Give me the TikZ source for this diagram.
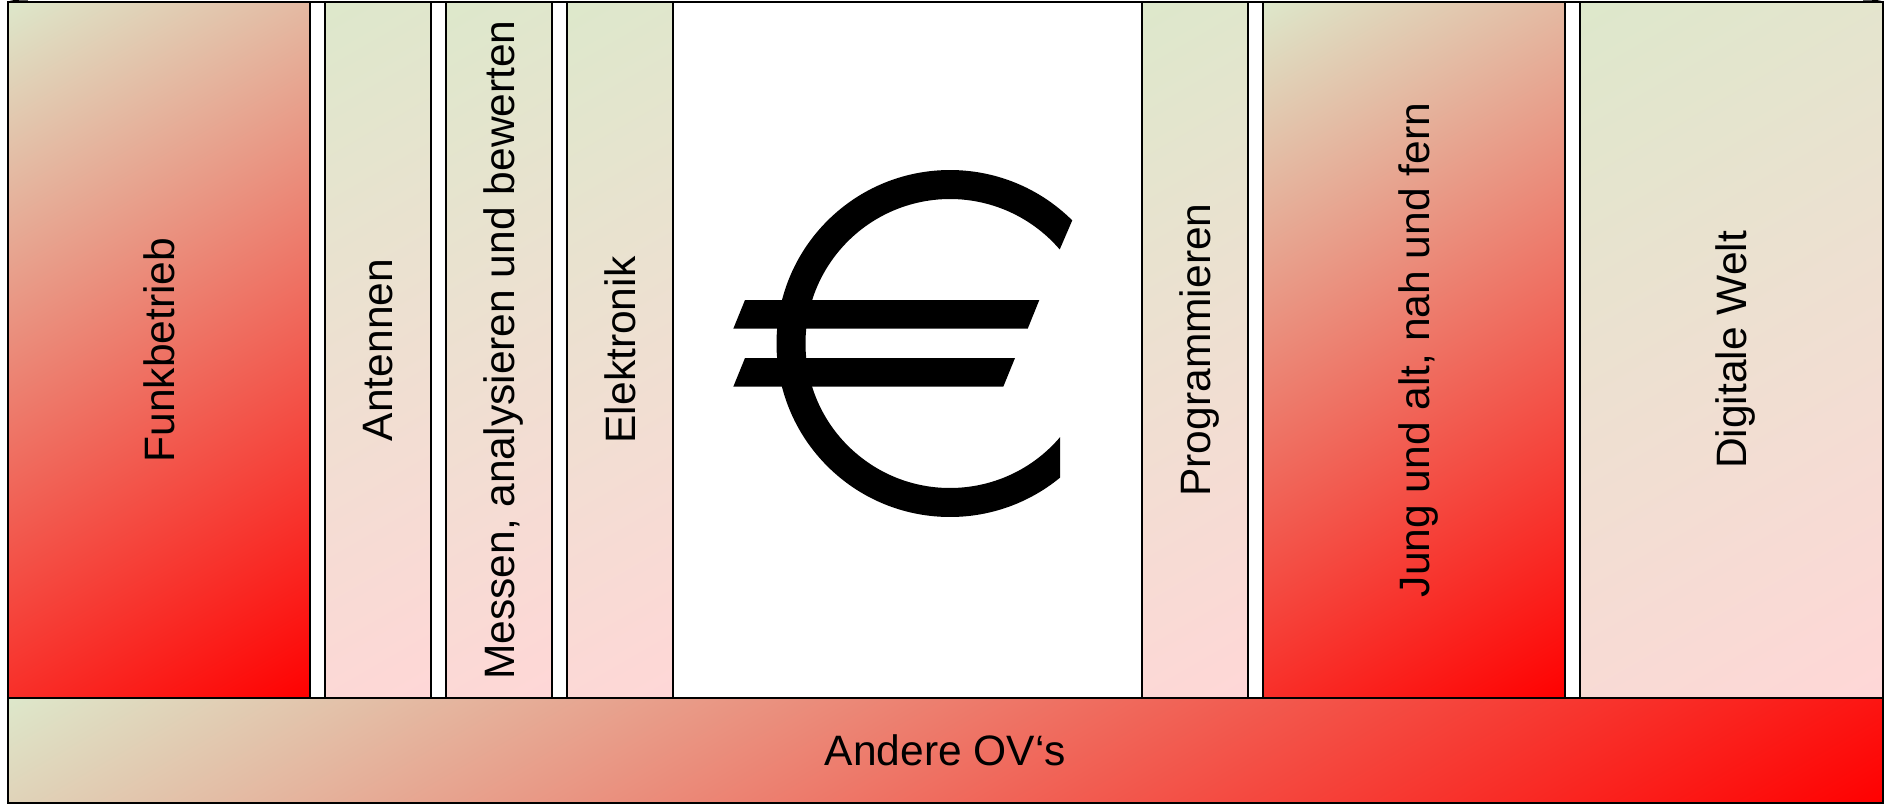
\documentclass[tikz,border=0pt]{standalone}
\usepackage{fontspec}
\setmainfont{Liberation Sans}
\usetikzlibrary{calc, positioning}
\definecolor{startgreen}{HTML}{DDE8CB}
\definecolor{palered}{HTML}{FFD7D7}
\pgfdeclareverticalshading{strongshade}{100bp}{color(0bp)=(red); color(100bp)=(startgreen)}
\pgfdeclareverticalshading{paleshade}{100bp}{color(0bp)=(palered); color(100bp)=(startgreen)}
\newcommand{\gradfill}[4]{%
  \begin{scope}
    \pgfmathsetmacro{\gradlen}{(#2*sin(30)+#3*cos(30))/3.5146}
    \pgfmathsetmacro{\gradwid}{(#2+#3)/3.5146}
    \clip (#1.south west) rectangle (#1.north east);
    \node[transform shape, rotate=30, xscale=\gradwid, yscale=\gradlen, inner sep=0pt, outer sep=0pt] (#1-shade) at (#1) {\pgfuseshading{#4}};
  \end{scope}
  \draw (#1.south west) rectangle (#1.north east);}
\begin{document}
\begin{tikzpicture}[font=\fontsize{12.1}{14.5}\selectfont, line width=0.35pt,
    column/.style={draw=black, outer sep=0pt, inner sep=0pt, minimum height=6.96cm},
    strongcol/.style={column, minimum width=3.02cm},
    palecol/.style={column, minimum width=1.06cm},
    widecol/.style={column, minimum width=3.03cm},
    vlabel/.style={rotate=90, text depth=0pt}]
    \useasboundingbox (0,0) rectangle (18.87,8.04);

    \path (0.08,8.02) coordinate (a1);
    \path (18.83,8.02) coordinate (a2);
    \path (0.28,8.04) coordinate (a3);
    \path (18.63,8.04) coordinate (a4);
    \path (9.5,4.605) coordinate (euro);

    \node[draw=black, fill=white, outer sep=0pt, minimum width=18.75cm, minimum height=8.01cm, anchor=north west] (frame) at (a1) {};
    \draw (a1) to[bend left=8] (a3);
    \draw (a2) to[bend right=8] (a4);

    \node[strongcol, anchor=north west] (funk) at (a1) {};
    \node[palecol, right = 0.15cm of funk] (antennen) {};
    \node[palecol, right = 0.15cm of antennen] (messen) {};
    \node[palecol, right = 0.15cm of messen] (elektronik) {};
    \node[column, fill=white, minimum width=4.69cm, right = 0cm of elektronik] (mitte) {};
    \node[palecol, right = 0cm of mitte] (prog) {};
    \node[strongcol, right = 0.15cm of prog] (jung) {};
    \node[widecol, anchor=north east] (digital) at (a2) {};
    \node[column, minimum height=1.05cm, minimum width=18.75cm, anchor=north] (ov) at (frame.south |- funk.south) {};

    \gradfill{funk}{3.02}{6.96}{strongshade}
    \gradfill{antennen}{1.06}{6.96}{paleshade}
    \gradfill{messen}{1.06}{6.96}{paleshade}
    \gradfill{elektronik}{1.06}{6.96}{paleshade}
    \gradfill{prog}{1.06}{6.96}{paleshade}
    \gradfill{jung}{3.02}{6.96}{strongshade}
    \gradfill{digital}{3.03}{6.96}{paleshade}
    \gradfill{ov}{18.75}{1.05}{strongshade}

    \node[vlabel] (funk-text) at (funk) {Funkbetrieb};
    \node[vlabel] (antennen-text) at (antennen) {Antennen};
    \node[vlabel] (messen-text) at (messen) {Messen, analysieren und bewerten};
    \node[vlabel] (elektronik-text) at (elektronik) {Elektronik};
    \node[vlabel] (prog-text) at (prog) {Programmieren};
    \node[vlabel] (jung-text) at (jung) {Jung und alt,\ nah und fern};
    \node[vlabel] (digital-text) at (digital) {Digitale Welt};
    \node (ov-text) at (ov) {Andere OV‘s};

    \fill ($(euro)+(45.2:1.735)$) arc[start angle=45.2, end angle=309.4, radius=1.735]
      -- ($(euro)+(-40.4:1.445)$) arc[start angle=-40.4, end angle=-319.4, radius=1.445] -- cycle;
    \fill (7.45,5.04) -- (10.393,5.04) -- (10.277,4.753) -- (7.333,4.753) -- cycle;
    \fill (7.45,4.46) -- (10.15,4.46) -- (10.033,4.173) -- (7.333,4.173) -- cycle;
\end{tikzpicture}
\end{document}
